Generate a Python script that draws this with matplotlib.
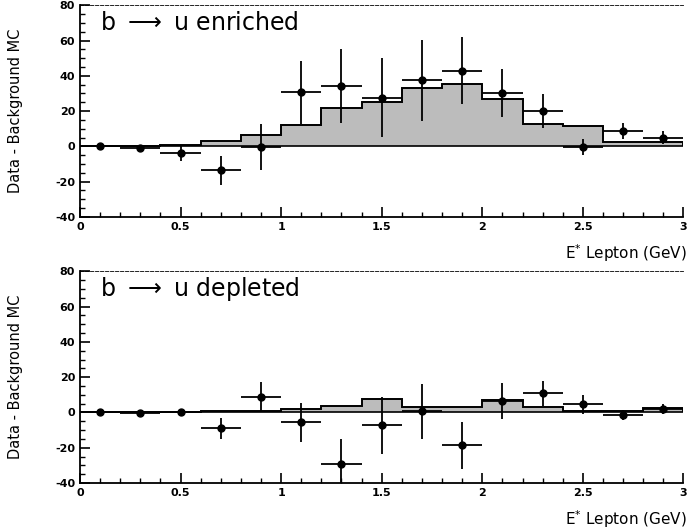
import matplotlib.pyplot as plt
import numpy as np
from matplotlib.ticker import MultipleLocator

plt.rcParams['axes.unicode_minus'] = False

# bin edges / centres (GeV)
edges = [0.0, 0.2, 0.4, 0.6, 0.8, 1.0, 1.2, 1.4, 1.6, 1.8, 2.0, 2.2, 2.4, 2.6, 2.8, 3.0]
centers = [0.1, 0.3, 0.5, 0.7, 0.9, 1.1, 1.3, 1.5, 1.7, 1.9, 2.1, 2.3, 2.5, 2.7, 2.9]
xtick_labels = ['0', '0.5', '1', '1.5', '2', '2.5', '3']

# b -> u enriched
enr_mc = [0.3, 0.3, 0.6, 3.3, 6.2, 11.9, 21.5, 25.4, 33.0, 35.4, 26.7, 12.9, 11.3, 2.7, 2.3]
enr_data = [0.0, -0.8, -3.8, -13.5, -0.6, 30.6, 34.0, 27.7, 37.5, 42.9, 30.4, 20.0, -0.6, 8.8, 4.8]
enr_err = [0.8, 0.8, 4.3, 8.3, 13.0, 18.0, 21.0, 22.4, 23.0, 19.0, 13.7, 9.6, 4.5, 4.7, 3.7]

# b -> u depleted
dep_mc = [0.0, 0.0, 0.4, 0.6, 0.8, 1.7, 3.6, 7.6, 3.2, 3.2, 7.2, 2.9, 0.8, 1.0, 2.3]
dep_data = [0.0, -0.4, 0.0, -9.1, 8.6, -5.5, -29.0, -7.4, 0.6, -18.5, 6.7, 11.0, 4.6, -1.5, 1.9]
dep_err = [0.8, 0.8, 1.8, 5.9, 8.6, 11.0, 14.0, 16.0, 15.4, 13.3, 10.2, 7.1, 5.5, 2.9, 3.0]

titles = ["b $\\longrightarrow$ u enriched", "b $\\longrightarrow$ u depleted"]

fig = plt.figure(figsize=(6.89, 5.29), dpi=100)
ax1 = fig.add_axes([0.116, 0.590, 0.876, 0.400])
ax2 = fig.add_axes([0.116, 0.087, 0.876, 0.400])

for ax, mc, dat, err, title in [(ax1, enr_mc, enr_data, enr_err, titles[0]),
                                (ax2, dep_mc, dep_data, dep_err, titles[1])]:
    ax.stairs(mc, edges, baseline=0, fill=True, facecolor='#bcbcbc', edgecolor='none')
    ax.stairs(mc, edges, baseline=0, color='black', lw=1.4)
    ax.axhline(0, color='black', lw=1.2)
    ax.errorbar(centers, dat, yerr=err, xerr=0.1, fmt='o', color='black',
                ms=5, elinewidth=1.3, capsize=0)
    ax.set_xlim(0, 3)
    ax.set_ylim(-40, 80)
    ax.set_xticks([0, 0.5, 1, 1.5, 2, 2.5, 3])
    ax.set_xticklabels(xtick_labels)
    ax.xaxis.set_minor_locator(MultipleLocator(0.1))
    ax.yaxis.set_major_locator(MultipleLocator(20))
    ax.yaxis.set_minor_locator(MultipleLocator(5))
    ax.tick_params(which='major', direction='in', length=7, width=1.2, labelsize=8)
    ax.tick_params(which='minor', direction='in', length=3.5, width=1.0)
    for lab in ax.get_xticklabels() + ax.get_yticklabels():
        lab.set_fontweight('bold')
    ax.spines['right'].set_visible(False)
    ax.spines['top'].set_linestyle((0, (4, 2)))
    ax.spines['top'].set_linewidth(0.6)
    ax.spines['left'].set_linewidth(1.3)
    ax.spines['bottom'].set_linewidth(1.3)
    ax.text(0.1, 70, title, fontsize=17, va='center', ha='left')
    ax.set_ylabel("Data - Background MC", fontsize=10.5)
    ax.yaxis.set_label_coords(-0.095, 0.5)
    ax.set_xlabel("E$^{*}$ Lepton (GeV)", fontsize=11, ha='right')
    ax.xaxis.set_label_coords(1.005, -0.12)

fig.savefig("out.png", dpi=100)
